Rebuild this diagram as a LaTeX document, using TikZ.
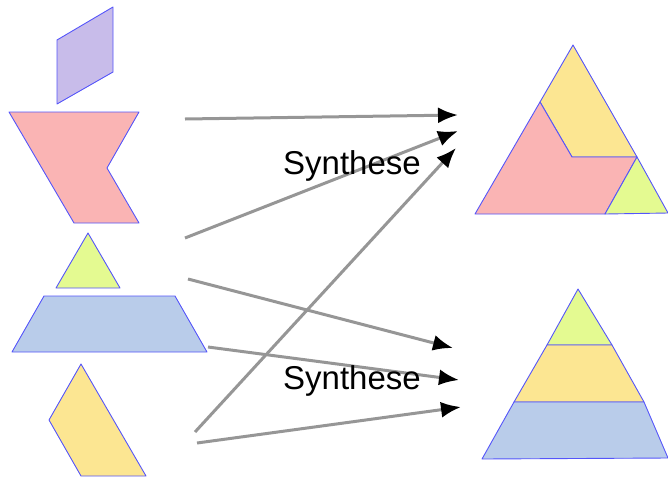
\documentclass[tikz,border=0pt]{standalone}
\usepackage{fontspec}
\setmainfont{Liberation Sans}
\usetikzlibrary{arrows.meta}

\definecolor{edgeblue}{RGB}{85,85,250}
\definecolor{lilac}{RGB}{200,188,234}
\definecolor{rose}{RGB}{250,180,180}
\definecolor{lime}{RGB}{228,250,145}
\definecolor{sky}{RGB}{185,204,234}
\definecolor{sand}{RGB}{252,230,146}
\definecolor{arrowgray}{RGB}{150,150,150}

\begin{document}
\begin{tikzpicture}[x=1pt, y=-1pt,
    piece/.style={draw=edgeblue, line width=0.9pt, line join=round},
    flow/.style={draw=arrowgray, line width=3pt, -{Latex[length=20pt, width=16pt, color=black]}},
    label/.style={font=\fontsize{33}{40}\selectfont, inner sep=0pt}]
    \useasboundingbox (0,0) rectangle (668,477);

    % single pieces on the left
    \draw[piece, fill=lilac] (57,40) -- (113,7) -- (113,72) -- (57,104) -- cycle;
    \draw[piece, fill=rose] (9,112) -- (139,112) -- (107,168) -- (139,223) -- (74,223) -- cycle;
    \draw[piece, fill=lime] (88,233) -- (120,288) -- (56,288) -- cycle;
    \draw[piece, fill=sky] (44,296) -- (175,296) -- (207,352) -- (12,352) -- cycle;
    \draw[piece, fill=sand] (81,364) -- (146,476) -- (81,476) -- (49,420) -- cycle;

    % first assembled triangle
    \draw[piece, fill=sand] (573,45) -- (637,157) -- (572,157) -- (540,102) -- cycle;
    \draw[piece, fill=rose] (540,102) -- (572,157) -- (637,157) -- (605,214) -- (475,214) -- cycle;
    \draw[piece, fill=lime] (637,157) -- (668,213) -- (605,214) -- cycle;

    % second assembled triangle
    \draw[piece, fill=lime] (578,289) -- (612,345) -- (547,345) -- cycle;
    \draw[piece, fill=sand] (547,345) -- (612,345) -- (644,402) -- (514,402) -- cycle;
    \draw[piece, fill=sky] (514,402) -- (644,402) -- (668,458) -- (482,459) -- cycle;

    % arrow ends
    \coordinate (rose out) at (185,119);
    \coordinate (lime out) at (185,238);
    \coordinate (sand up) at (195,432);
    \coordinate (lime down) at (188,279);
    \coordinate (sky out) at (208,347);
    \coordinate (sand out) at (197,443);
    \coordinate (top a) at (458,115);
    \coordinate (top b) at (458,131);
    \coordinate (top c) at (456,148);
    \coordinate (bot a) at (453,348);
    \coordinate (bot b) at (459,380);
    \coordinate (bot c) at (461,407);

    \draw[flow] (rose out) -- (top a);
    \draw[flow] (lime out) -- (top b);
    \draw[flow] (sand up) -- (top c);
    \draw[flow] (lime down) -- (bot a);
    \draw[flow] (sky out) -- (bot b);
    \draw[flow] (sand out) -- (bot c);

    \node[label] (synth top) at (352,166) {Synthese};
    \node[label] (synth bot) at (352,381) {Synthese};
\end{tikzpicture}
\end{document}
